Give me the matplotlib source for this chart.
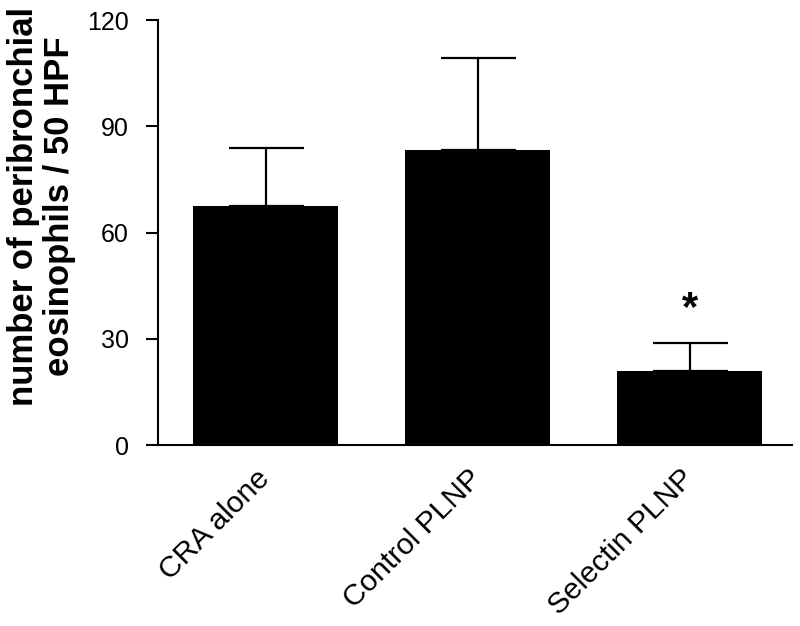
import matplotlib
matplotlib.use("Agg")
import matplotlib.pyplot as plt
import matplotlib.transforms as mtransforms

groups = ["CRA alone", "Control PLNP", "Selectin PLNP"]
means = [67.5, 83.3, 21.0]
sem = [16.3, 26.1, 7.7]
yticks = [0, 30, 60, 90, 120]

plt.rcParams['font.family'] = ['Liberation Sans', 'DejaVu Sans']

fig = plt.figure(figsize=(8, 6.26), dpi=100)
ax = fig.add_axes([0.1975, 0.289, 0.7925, 0.679])

x = range(len(groups))
ax.bar(x, means, width=0.68, color='black', zorder=2)
ax.errorbar(x, means, yerr=[[0] * len(sem), sem], fmt='none', ecolor='black',
            elinewidth=1.6, capsize=27, capthick=1.6, zorder=1)

# significance marker over the last bar
ax.text(2, means[2] + sem[2] + 4.0, "*", ha='center', va='bottom',
        fontsize=30, fontweight='bold')

ax.set_xlim(-0.507, 2.483)
ax.set_ylim(0, 120)
ax.set_yticks(yticks)
ax.set_xticks(list(x))
ax.set_xticklabels(groups, rotation=45, ha='right', rotation_mode='anchor', fontsize=21.5)
ax.tick_params(axis='y', labelsize=18, length=9, width=1.5, direction='out', pad=12)
ax.tick_params(axis='x', length=0, pad=14)

# nudge rotated labels a little to the left
shift = mtransforms.ScaledTranslation(-10 / 100, 0, fig.dpi_scale_trans)
for lab in ax.get_xticklabels():
    lab.set_transform(lab.get_transform() + shift)

for side in ['top', 'right']:
    ax.spines[side].set_visible(False)
for side in ['left', 'bottom']:
    ax.spines[side].set_linewidth(1.5)

ax.set_ylabel("number of peribronchial\neosinophils / 50 HPF", fontsize=25,
              fontweight='bold', linespacing=1.1)
ax.yaxis.set_label_coords(-0.13, 0.562)

fig.savefig("out.png", dpi=100)
